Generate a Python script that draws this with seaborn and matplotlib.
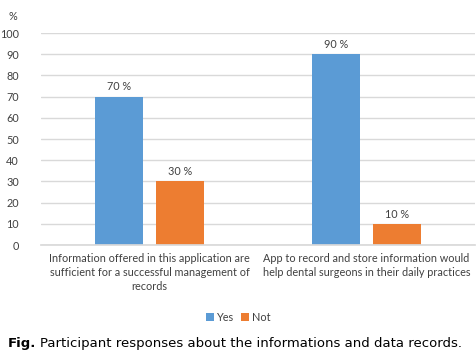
import matplotlib
matplotlib.use("Agg")
import matplotlib.pyplot as plt
import seaborn as sns
import pandas as pd

categories = ["Information offered in this application are\nsufficient for a successful management of\nrecords",
              "App to record and store information would\nhelp dental surgeons in their daily practices"]
yes_values = [70, 90]
not_values = [30, 10]
series_names = ["Yes", "Not"]
yticks = list(range(0, 101, 10))

df = pd.DataFrame({
    "category": categories * 2,
    "value": yes_values + not_values,
    "series": [series_names[0]] * 2 + [series_names[1]] * 2,
})

sns.set_theme(style="white")
plt.rcParams['font.family'] = ['Lato', 'DejaVu Sans']

FS = 7.8
TC = "#404040"

fig = plt.figure(figsize=(4.77, 3.64), dpi=100)
ax = fig.add_axes([41/477, 1-245/364, 434/477, 212/364])

sns.barplot(data=df, x="category", y="value", hue="series",
            palette=["#5B9BD5", "#ED7D31"], width=0.56, gap=0.21,
            saturation=1, ax=ax, legend=True, edgecolor="none", linewidth=0)

ax.set_ylim(0, 100)
ax.set_xlim(-0.5, 1.5)
ax.set_yticks(yticks)
ax.yaxis.grid(True, color="#d9d9d9", linewidth=1)
ax.set_axisbelow(True)
for s in ["top", "right", "left"]:
    ax.spines[s].set_visible(False)
ax.spines["bottom"].set_color("#d9d9d9")
ax.tick_params(axis="both", length=0, labelsize=FS, colors=TC)
ax.tick_params(axis="y", pad=16)
ax.tick_params(axis="x", pad=6)
ax.set_xlabel("")
ax.set_ylabel("")
for lbl in ax.get_xticklabels():
    lbl.set_linespacing(1.3)

for c in ax.containers:
    ax.bar_label(c, labels=[f"{v:.0f} %" for v in c.datavalues],
                 padding=3, fontsize=FS, color=TC)

fig.text(9/477, 1-17/364, "%", fontsize=FS, color=TC, ha="left", va="center")

leg = ax.legend(loc="center", bbox_to_anchor=(0.455, -0.342), ncol=2,
                frameon=False, fontsize=FS, handlelength=0.75, handleheight=0.75,
                columnspacing=0.6, handletextpad=0.3, borderaxespad=0)
for t in leg.get_texts():
    t.set_color(TC)

t1 = fig.text(8/477, 1-343/364, "Fig.", fontsize=9.5, fontweight="bold", color="black",
              ha="left", va="center", family="DejaVu Sans")
fig.canvas.draw()
bb = t1.get_window_extent()
x2 = (bb.x1 + 4) / fig.bbox.width
fig.text(x2, 1-343/364, "Participant responses about the informations and data records.",
         fontsize=9.5, color="black", ha="left", va="center", family="DejaVu Sans")

fig.savefig("out.png", dpi=100)
